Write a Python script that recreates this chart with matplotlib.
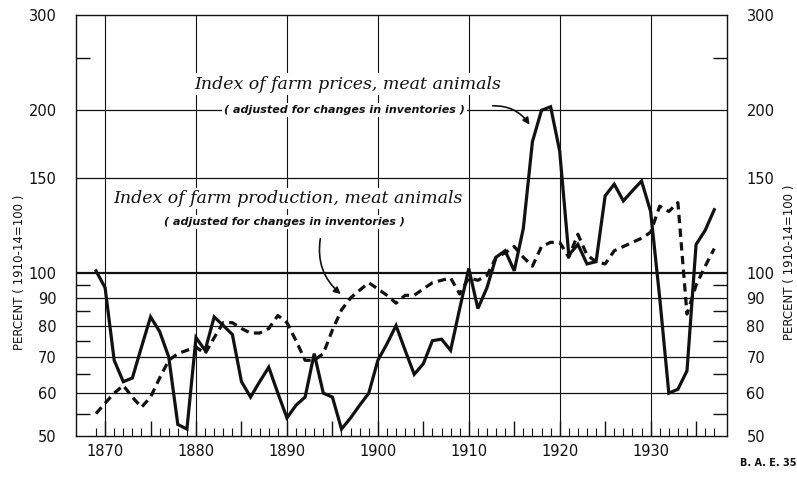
"""Index of farm prices and farm production, meat animals, 1869-1937 (B.A.E. 35)."""

import numpy as np
import matplotlib
matplotlib.use("Agg")
import matplotlib.pyplot as plt
from matplotlib.ticker import FixedLocator, NullFormatter, FuncFormatter

INK = "#111111"

# años y valores (1910-14 = 100)
years = list(range(1869, 1938))
prices = [101, 94, 69, 63, 64, 73, 83, 78, 70, 52.5,
          51.5, 76, 72, 83, 80, 77, 63, 59, 63, 67,
          60, 54, 57, 59, 71, 60, 59, 51.5, 54, 57,
          60, 69, 74, 80, 72, 65, 68, 75, 75.5, 72,
          86, 102, 86, 94, 107, 110, 101, 121, 175, 200,
          203, 168, 108, 113, 104, 105, 139, 146, 136, 142,
          148, 130, 90, 60, 61, 66, 113, 120, 131]
production = [55, 57.5, 60, 62, 59, 56.5, 59, 64, 69, 71,
              72, 73, 71, 76, 81, 81, 79, 77.5, 77.5, 79,
              83.5, 81, 75, 69, 69, 71, 78.5, 85.5, 90, 93,
              96, 93.5, 91, 88, 91, 91, 93.5, 96, 97, 98,
              91.5, 98, 97, 99, 107, 109, 112, 107, 103, 112,
              114, 114, 107, 118, 108, 105, 104, 110, 112, 114,
              116, 119, 133, 130, 135, 84, 95, 103, 111]

grid_levels = [60, 70, 80, 90, 100, 150, 200]
y_labels = [50, 60, 70, 80, 90, 100, 150, 200, 300]
y_minor = [55, 65, 75, 85, 95, 250]
decades = [1870, 1880, 1890, 1900, 1910, 1920, 1930]

fig = plt.figure(figsize=(7.97, 4.82), dpi=100)
fig.patch.set_facecolor("white")
ax = fig.add_axes([76 / 797, 1 - 436 / 482, 651 / 797, 421 / 482])

ax.set_yscale("log")
ax.set_ylim(50, 300)
ax.set_xlim(1866.8, 1938.4)

# rejilla
for lv in grid_levels:
    ax.axhline(lv, color=INK, lw=1.6 if lv == 100 else 0.9, zorder=1)
for d in decades:
    ax.axvline(d, color=INK, lw=0.8, zorder=1)

# series
ax.plot(years, prices, color=INK, lw=2.3, solid_joinstyle="miter", zorder=3)
ln, = ax.plot(years, production, color=INK, lw=2.3, zorder=3)
ln.set_dashes([2.6, 1.7])

# ejes y marcas
for s in ax.spines.values():
    s.set_linewidth(1.0)
    s.set_color(INK)

ax.yaxis.set_major_locator(FixedLocator(y_labels))
ax.yaxis.set_major_formatter(FuncFormatter(lambda v, p: f"{int(round(v))}"))
ax.yaxis.set_minor_locator(FixedLocator(y_minor))
ax.yaxis.set_minor_formatter(NullFormatter())
ax.tick_params(axis="y", which="major", length=0, pad=14, labelsize=10.5,
               left=True, right=True, labelleft=True, labelright=True,
               labelcolor=INK)
ax.tick_params(axis="y", which="minor", length=10, width=1.0, direction="in",
               left=True, right=True, color=INK)

ax.xaxis.set_major_locator(FixedLocator(list(range(1870, 1940, 5))))
ax.xaxis.set_major_formatter(FuncFormatter(lambda v, p: f"{int(v)}" if int(v) % 10 == 0 else ""))
ax.xaxis.set_minor_locator(FixedLocator(years))
ax.tick_params(axis="x", which="major", length=11, width=1.0, direction="in",
               labelsize=10.5, pad=6, color=INK, labelcolor=INK)
ax.tick_params(axis="x", which="minor", length=6, width=0.8, direction="in",
               color=INK)

# etiquetas de eje
fig.text(20 / 797, 1 - 272 / 482, "PERCENT ( 1910-14=100 )", rotation=90,
         ha="center", va="center", fontsize=8.5, color=INK)
fig.text(789 / 797, 1 - 262 / 482, "PERCENT ( 1910-14=100 )", rotation=90,
         ha="center", va="center", fontsize=8.5, color=INK)
fig.text(796 / 797, 1 - 463 / 482, "B. A. E. 35", ha="right", va="center",
         fontsize=7, fontweight="bold", color=INK)

# rótulos de las series
box = dict(facecolor="white", edgecolor="none", pad=1.5)
serif = ["DejaVu Serif"]
ax.text(0.418, 0.836, "Index of farm prices, meat animals", transform=ax.transAxes,
        ha="center", va="center", fontsize=12.5, style="italic", family=serif,
        color=INK, bbox=box, zorder=4)
ax.text(0.412, 0.774, "( adjusted for changes in inventories )", transform=ax.transAxes,
        ha="center", va="center", fontsize=8, style="italic", fontweight="bold",
        color=INK, bbox=box, zorder=4)
ax.text(0.326, 0.565, "Index of farm production, meat animals", transform=ax.transAxes,
        ha="center", va="center", fontsize=12.5, style="italic", family=serif,
        color=INK, bbox=box, zorder=4)
ax.text(0.320, 0.508, "( adjusted for changes in inventories )", transform=ax.transAxes,
        ha="center", va="center", fontsize=8, style="italic", fontweight="bold",
        color=INK, bbox=box, zorder=4)

ax.annotate("", xy=(0.699, 0.734), xytext=(0.636, 0.784),
            xycoords="axes fraction", textcoords="axes fraction",
            arrowprops=dict(arrowstyle="-|>", color=INK, lw=1.2,
                            connectionstyle="arc3,rad=-0.3", mutation_scale=10),
            zorder=5)
ax.annotate("", xy=(0.410, 0.333), xytext=(0.376, 0.475),
            xycoords="axes fraction", textcoords="axes fraction",
            arrowprops=dict(arrowstyle="-|>", color=INK, lw=1.2,
                            connectionstyle="arc3,rad=0.3", mutation_scale=10),
            zorder=5)

fig.savefig("out.png", dpi=100, facecolor="white")
plt.close(fig)
